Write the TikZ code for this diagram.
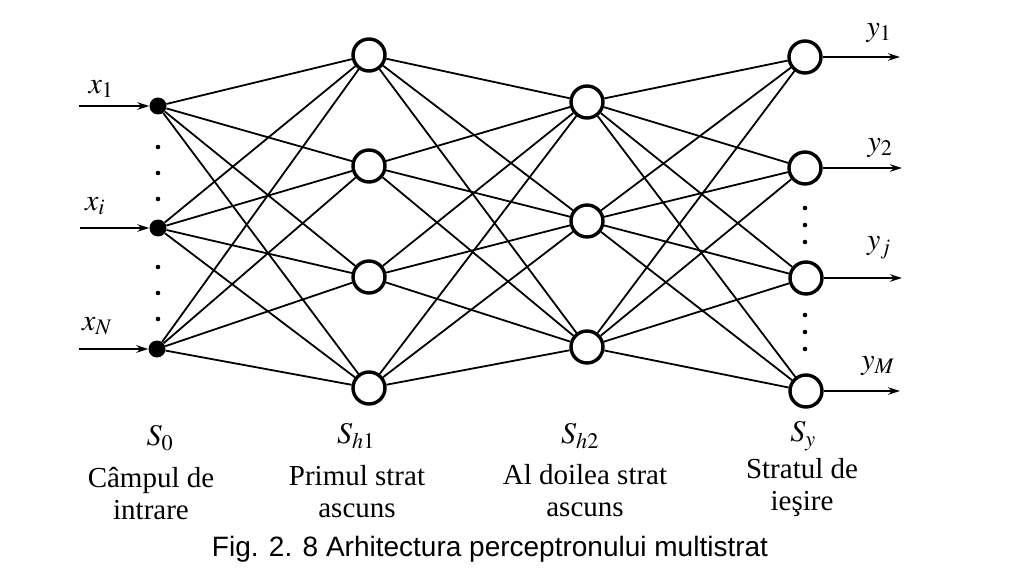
\documentclass[tikz,border=0pt]{standalone}
\usepackage{mathptmx}
\usepackage[no-math]{fontspec}
\setmainfont{Liberation Serif}
\newfontfamily\captionfont{Liberation Sans}
\usetikzlibrary{arrows.meta}

\begin{document}
\begin{tikzpicture}[x=1pt,y=-1pt,
    neuron/.style={circle,draw,line width=3.4pt,minimum size=32pt,inner sep=0pt,fill=white},
    inpoint/.style={circle,fill,minimum size=17pt,inner sep=0pt},
    syn/.style={line width=1.8pt},
    sig/.style={line width=1.8pt,-{Stealth[length=12pt,width=7.5pt]}},
    lbl/.style={font=\fontsize{30}{32}\selectfont},
    txt/.style={font=\fontsize{29}{32}\selectfont,align=center}]
    \useasboundingbox (0,0) rectangle (1018,583);

    % Campul de intrare
    \node[inpoint] (s0-1) at (158,106) {};
    \node[inpoint] (s0-2) at (158,228) {};
    \node[inpoint] (s0-3) at (157,349) {};

    % Primul strat ascuns
    \node[neuron] (h1-1) at (369,55) {};
    \node[neuron] (h1-2) at (369,166) {};
    \node[neuron] (h1-3) at (369,277) {};
    \node[neuron] (h1-4) at (369,388) {};

    % Al doilea strat ascuns
    \node[neuron] (h2-1) at (587,102) {};
    \node[neuron] (h2-2) at (587,221) {};
    \node[neuron] (h2-3) at (587,347) {};

    % Stratul de iesire
    \node[neuron] (sy-1) at (805,57) {};
    \node[neuron] (sy-2) at (805,168) {};
    \node[neuron] (sy-3) at (806,278) {};
    \node[neuron] (sy-4) at (806,391) {};

    % Legaturi
    \foreach \a in {1,2,3}
        \foreach \b in {1,...,4}
            \draw[syn] (s0-\a) -- (h1-\b);
    \foreach \a in {1,...,4}
        \foreach \b in {1,2,3}
            \draw[syn] (h1-\a) -- (h2-\b);
    \foreach \a in {1,2,3}
        \foreach \b in {1,...,4}
            \draw[syn] (h2-\a) -- (sy-\b);

    % Intrari
    \coordinate (in-1) at (79,106);
    \coordinate (in-2) at (80,228);
    \coordinate (in-3) at (79,349);
    \foreach \i in {1,2,3}
        \draw[sig] (in-\i) -- (s0-\i);
    \node[lbl] (x1) at (101,89) {$x_1$};
    \node[lbl] (xi) at (95,206) {$x_i$};
    \node[lbl] (xN) at (97,326) {$x_N$};

    % Iesiri
    \coordinate (out-1) at (900,57);
    \coordinate (out-2) at (902,168);
    \coordinate (out-3) at (902,278);
    \coordinate (out-4) at (900,391);
    \foreach \i in {1,...,4}
        \draw[sig] (sy-\i) -- (out-\i);
    \node[lbl] (y1) at (879,33) {$y_1$};
    \node[lbl] (y2) at (880,148) {$y_2$};
    \node[lbl] (yj) at (879,248) {$y_j$};
    \node[lbl] (yM) at (878,366) {$y_M$};

    % Puncte de suspensie
    \foreach \y in {147,173,199,267,293,319}
        \fill (158,\y) circle (2.3pt);
    \foreach \y in {208,225,242,315,332,349}
        \fill (805,\y) circle (2.3pt);

    % Denumiri straturi
    \node[lbl] (n0) at (160,438) {$S_0$};
    \node[lbl] (n1) at (356,436) {$S_{h1}$};
    \node[lbl] (n2) at (580,436) {$S_{h2}$};
    \node[lbl] (n3) at (803,436) {$S_y$};
    \node[txt] (t0) at (151,494) {Câmpul de\\intrare};
    \node[txt] (t1) at (357,492) {Primul strat\\ascuns};
    \node[txt] (t2) at (585,491) {Al doilea strat\\ascuns};
    \node[txt] (t3) at (802,488) {Stratul de\\ieşire};

    % Titlu
    \node[font=\captionfont\fontsize{28}{30}\selectfont] (cap) at (490,549)
        {Fig. 2. 8 Arhitectura perceptronului multistrat};
\end{tikzpicture}
\end{document}
